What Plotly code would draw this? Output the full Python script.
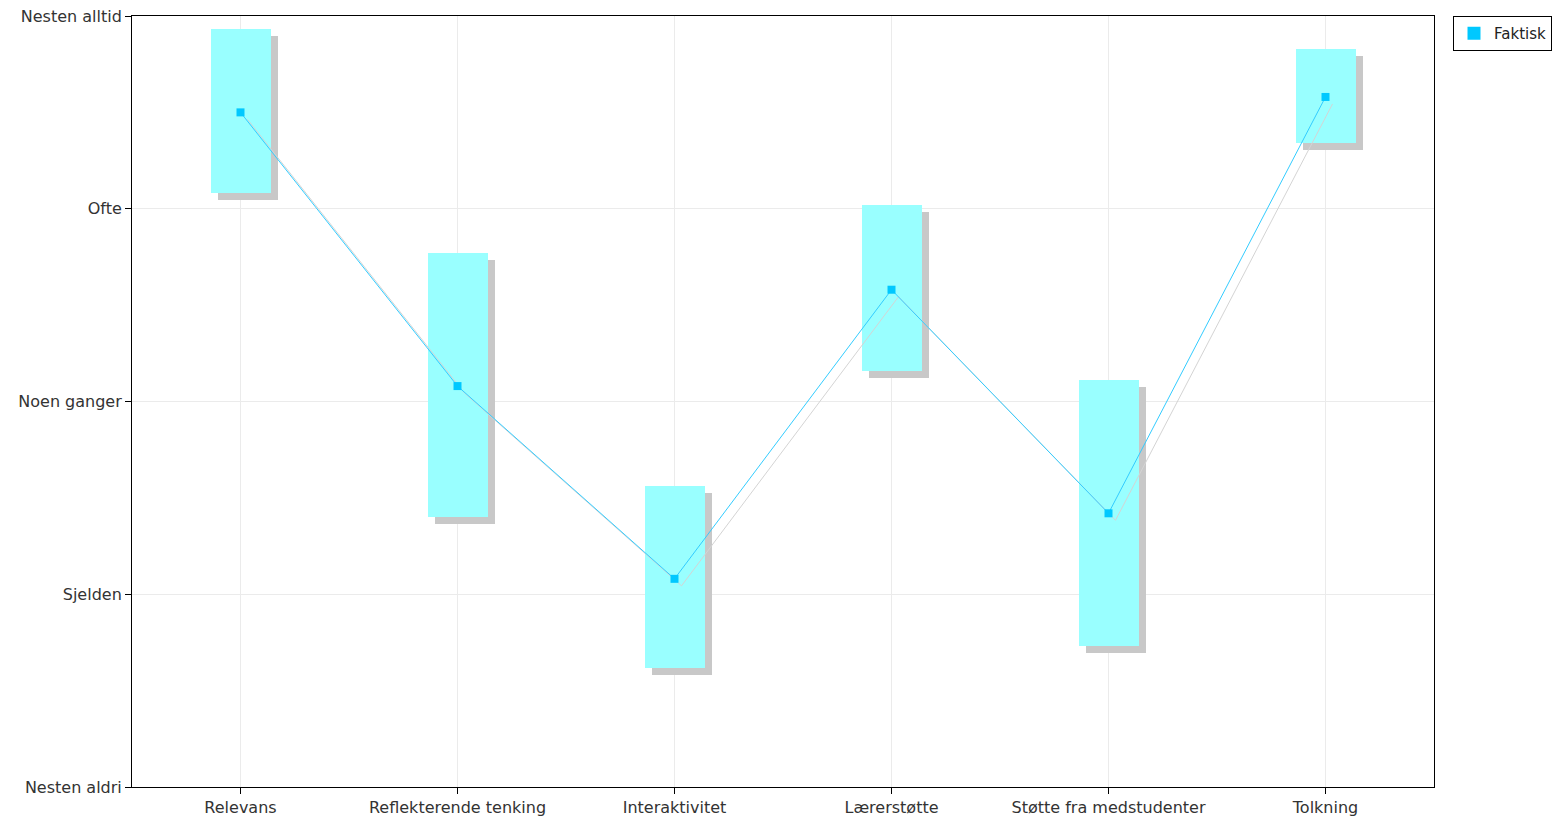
import plotly.graph_objects as go

categories = ["Relevans", "Reflekterende tenking", "Interaktivitet", "Lærerstøtte",
              "Støtte fra medstudenter", "Tolkning"]
means = [4.50, 3.08, 2.08, 3.58, 2.42, 4.58]
lows = [4.08, 2.40, 1.62, 3.16, 1.73, 4.34]
highs = [4.93, 3.77, 2.56, 4.02, 3.11, 4.83]
ytick_vals = [1, 2, 3, 4, 5]
ytick_text = ["Nesten aldri", "Sjelden", "Noen ganger", "Ofte", "Nesten alltid"]

W, H = 1554, 816
ml, mr, mt, mb = 132, 120, 16, 29
xpx = (W - ml - mr) / 6.0
ypx = (H - mt - mb) / 4.0
dx = 7 / xpx
dy = 7 / ypx
bw = 60 / xpx

xs = list(range(len(categories)))
heights = [h - l for h, l in zip(highs, lows)]

fig = go.Figure()
# line shadow
fig.add_trace(go.Scatter(x=[x + dx for x in xs], y=[m - dy for m in means], mode="lines",
                         line=dict(color="#d4d4d4", width=1), showlegend=False, hoverinfo="skip"))
# box shadows
fig.add_trace(go.Bar(x=[x + dx for x in xs], y=heights, base=[l - dy for l in lows], width=bw,
                     marker=dict(color="#c8c8c8", line=dict(width=0)), showlegend=False, hoverinfo="skip"))
# boxes
fig.add_trace(go.Bar(x=xs, y=heights, base=lows, width=bw,
                     marker=dict(color="#99ffff", line=dict(width=0)), showlegend=False))
# mean line
fig.add_trace(go.Scatter(x=xs, y=means, mode="lines+markers",
                         line=dict(color="#33ccff", width=1),
                         marker=dict(symbol="square", size=8, color="#00c8ff"),
                         showlegend=False, name="Faktisk"))
# legend entry
fig.add_trace(go.Scatter(x=[None], y=[None], mode="markers", name="Faktisk",
                         marker=dict(symbol="square", size=13, color="#00c8ff")))

fig.update_layout(
    width=W, height=H,
    margin=dict(l=ml, r=mr, t=mt, b=mb, autoexpand=False),
    paper_bgcolor="white", plot_bgcolor="white",
    barmode="overlay", bargap=0,
    font=dict(family="DejaVu Sans, Liberation Sans, Arial, sans-serif", size=16, color="#333333"),
    showlegend=True,
    legend=dict(xref="container", yref="container", x=1453 / W, y=1 - 16 / H,
                xanchor="left", yanchor="top",
                bordercolor="black", borderwidth=1, bgcolor="white",
                font=dict(size=15, color="#222222"), itemwidth=30),
    xaxis=dict(range=[-0.5, 5.5], tickvals=xs, ticktext=categories, automargin=False,
               showgrid=True, gridcolor="#ebebeb", gridwidth=1,
               showline=True, linecolor="black", linewidth=1, mirror=True,
               ticks="outside", ticklen=6, tickcolor="black", zeroline=False),
    yaxis=dict(range=[1, 5], tickvals=ytick_vals, ticktext=ytick_text, automargin=False,
               showgrid=True, gridcolor="#ebebeb", gridwidth=1,
               showline=True, linecolor="black", linewidth=1, mirror=True,
               ticks="outside", ticklen=6, tickcolor="black", zeroline=False),
)

fig.write_html("out.html", config={"displayModeBar": False},
               post_script="document.body.style.margin='0px';")
